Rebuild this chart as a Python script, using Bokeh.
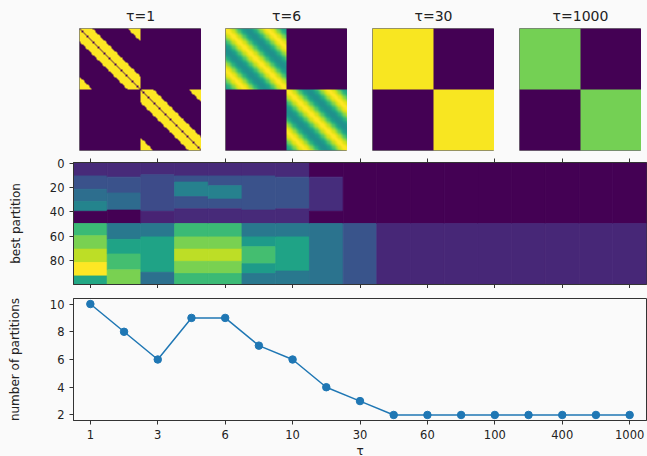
import numpy as np
from bokeh.plotting import figure
from bokeh.layouts import column, row
from bokeh.models import FixedTicker, LinearAxis, ColumnDataSource, Range1d, LinearColorMapper
from bokeh.palettes import Viridis256
from bokeh.transform import linear_cmap
from bokeh.embed import file_html
from bokeh.resources import INLINE

# ---------------- data ----------------
tick_positions = [0, 2, 4, 6, 8, 10, 12, 14, 16]
tick_labels = ["1", "3", "6", "10", "30", "60", "100", "400", "1000"]
tau_index = list(range(17))
n_partitions = [10, 8, 6, 9, 9, 7, 6, 4, 3, 2, 2, 2, 2, 2, 2, 2, 2]

# best partition: node boundaries and colour levels (0..1, viridis) per tau column
partition_edges = [
    [0, 11, 22, 32, 40, 50, 60, 71, 82, 93, 100],
    [0, 12, 25, 39, 50, 63, 75, 88, 100],
    [0, 10, 40, 50, 61, 90, 100],
    [0, 11, 16, 28, 38, 50, 61, 71, 81, 91, 100],
    [0, 11, 19, 30, 38, 50, 61, 71, 81, 91, 100],
    [0, 11, 39, 50, 61, 69, 83, 91, 100],
    [0, 12, 38, 50, 61, 89, 100],
    [0, 12, 40, 50, 100],
    [0, 50, 100],
    [0, 50, 100],
    [0, 50, 100],
    [0, 50, 100],
    [0, 50, 100],
    [0, 50, 100],
    [0, 50, 100],
    [0, 50, 100],
    [0, 50, 100],
]
partition_levels = [
    [0.12, 0.25, 0.36, 0.45, 0.0, 0.68, 0.80, 0.90, 1.0, 0.60],
    [0.12, 0.25, 0.35, 0.0, 0.40, 0.58, 0.70, 0.80],
    [0.12, 0.23, 0.10, 0.40, 0.58, 0.37],
    [0.12, 0.25, 0.44, 0.25, 0.12, 0.68, 0.80, 0.90, 0.80, 0.68],
    [0.12, 0.25, 0.44, 0.25, 0.12, 0.68, 0.80, 0.90, 0.80, 0.68],
    [0.12, 0.25, 0.12, 0.40, 0.55, 0.70, 0.55, 0.40],
    [0.12, 0.25, 0.12, 0.40, 0.58, 0.40],
    [0.0, 0.13, 0.0, 0.38],
    [0.0, 0.26],
    [0.0, 0.11],
    [0.0, 0.11],
    [0.0, 0.11],
    [0.0, 0.11],
    [0.0, 0.11],
    [0.0, 0.11],
    [0.0, 0.11],
    [0.0, 0.11],
]

# matrices shown at the top
matrix_titles = ["\u03c4=1", "\u03c4=6", "\u03c4=30", "\u03c4=1000"]
n_nodes = 100
block_size = 50
ring_neighbours = 10
tau6_profile = [1.0, 1.0, 0.98, 0.96, 0.94, 0.90, 0.86, 0.82, 0.77, 0.73,
                0.68, 0.64, 0.60, 0.57, 0.54, 0.52, 0.50, 0.50, 0.50, 0.52,
                0.54, 0.57, 0.60, 0.64, 0.68, 0.73, 0.77, 0.82, 0.86, 0.90,
                0.94, 0.96, 0.98, 1.0, 1.0, 1.0, 0.98, 0.96, 0.94, 0.90,
                0.86, 0.82, 0.77, 0.73, 0.68, 0.64, 0.60, 0.57, 0.54, 0.52]
tau30_level = 0.99
tau1000_level = 0.79

# ---------------- styling helpers ----------------
BG = "#fafafa"
FONT = "DejaVu Sans"
EDGE = "#333333"


def build_matrix(kind):
    M = np.zeros((n_nodes, n_nodes))
    for i in range(n_nodes):
        for j in range(n_nodes):
            if i // block_size != j // block_size:
                continue
            d = abs(i - j)
            if kind == 0:
                dc = min(d, block_size - d)
                M[i, j] = 1.0 if 1 <= dc <= ring_neighbours else 0.0
            elif kind == 1:
                M[i, j] = tau6_profile[d]
            elif kind == 2:
                M[i, j] = tau30_level
            else:
                M[i, j] = tau1000_level
    return M


mapper = LinearColorMapper(palette=Viridis256, low=0, high=1)
lefts = [79, 24, 25, 25]
top_figs = []
for k in range(4):
    f = figure(frame_width=122, frame_height=122,
               x_range=Range1d(0, n_nodes), y_range=Range1d(n_nodes, 0),
               min_border_left=lefts[k], min_border_right=0,
               min_border_top=0, min_border_bottom=8,
               output_backend="svg", toolbar_location=None,
               title=matrix_titles[k])
    f.image(image=[build_matrix(k)], x=0, y=0, dw=n_nodes, dh=n_nodes, color_mapper=mapper)
    f.axis.visible = False
    f.grid.visible = False
    f.outline_line_color = "#777777"
    f.background_fill_color = BG
    f.border_fill_color = BG
    f.title.align = "center"
    f.title.text_font = FONT
    f.title.text_font_style = "normal"
    f.title.text_font_size = "14px"
    f.title.text_color = "#222222"
    top_figs.append(f)


def style_axis(ax):
    ax.axis_line_color = EDGE
    ax.major_tick_line_color = EDGE
    ax.minor_tick_line_color = None
    ax.major_tick_out = 4
    ax.major_tick_in = 0
    ax.major_label_text_font = FONT
    ax.major_label_text_font_size = "11.5px"
    ax.major_label_text_color = "#222222"
    ax.axis_label_text_font = FONT
    ax.axis_label_text_font_size = "12px"
    ax.axis_label_text_font_style = "normal"
    ax.axis_label_text_color = "#222222"


# ---------------- heatmap ----------------
q = dict(left=[], right=[], top=[], bottom=[], level=[])
for c, (edges, levels) in enumerate(zip(partition_edges, partition_levels)):
    for s, lv in enumerate(levels):
        q["left"].append(tau_index[c] - 0.5)
        q["right"].append(tau_index[c] + 0.5)
        q["top"].append(edges[s] - 0.5)
        q["bottom"].append(edges[s + 1] - 0.5)
        q["level"].append(lv)

hm = figure(frame_width=573, frame_height=122,
            x_range=Range1d(-0.5, 16.5), y_range=Range1d(99.5, -0.5),
            min_border_left=73, min_border_right=1, min_border_top=4, min_border_bottom=4,
            output_backend="svg", toolbar_location=None)
cmap = linear_cmap("level", Viridis256, 0, 1)
hm.quad(left="left", right="right", top="top", bottom="bottom", source=ColumnDataSource(q),
        fill_color=cmap, line_color=cmap, line_width=0.8)
hm.grid.visible = False
hm.background_fill_color = BG
hm.border_fill_color = BG
hm.outline_line_color = EDGE
bottom_ax = hm.below[0]
bottom_ax.ticker = FixedTicker(ticks=tick_positions)
hm.yaxis.ticker = FixedTicker(ticks=[0, 20, 40, 60, 80])
hm.yaxis.axis_label = "best partition"
top_ax = LinearAxis(ticker=FixedTicker(ticks=tick_positions))
hm.add_layout(top_ax, "above")
for ax in [bottom_ax, hm.left[0], top_ax]:
    style_axis(ax)
for ax in [bottom_ax, top_ax]:
    ax.major_label_text_font_size = "0px"
    ax.major_label_text_color = None
    ax.major_label_standoff = 0
hm.left[0].axis_label_standoff = 24

# ---------------- number of partitions ----------------
lp = figure(frame_width=573, frame_height=122,
            x_range=Range1d(-0.5, 16.5), y_range=Range1d(1.6, 10.4),
            min_border_left=73, min_border_right=1, min_border_top=10, min_border_bottom=2,
            output_backend="svg", toolbar_location=None)
lp.line(tau_index, n_partitions, line_width=1.5, color="#1f77b4")
lp.scatter(tau_index, n_partitions, size=7.5, color="#1f77b4")
lp.grid.visible = False
lp.background_fill_color = BG
lp.border_fill_color = BG
lp.outline_line_color = EDGE
lp.xaxis.ticker = FixedTicker(ticks=tick_positions)
lp.xaxis.major_label_overrides = {p: l for p, l in zip(tick_positions, tick_labels)}
lp.xaxis.axis_label = "\u03c4"
lp.yaxis.ticker = FixedTicker(ticks=[2, 4, 6, 8, 10])
lp.yaxis.axis_label = "number of partitions"
for ax in [lp.below[0], lp.left[0]]:
    style_axis(ax)
lp.left[0].axis_label_standoff = 25
lp.below[0].axis_label_standoff = 2

layout = column(row(*top_figs, spacing=0), hm, lp, spacing=0)
layout.styles = {"background-color": BG}

html = file_html(layout, INLINE)
html = html.replace("<body>", '<body style="background-color:%s;">' % BG, 1)
open("out.html", "w").write(html)
